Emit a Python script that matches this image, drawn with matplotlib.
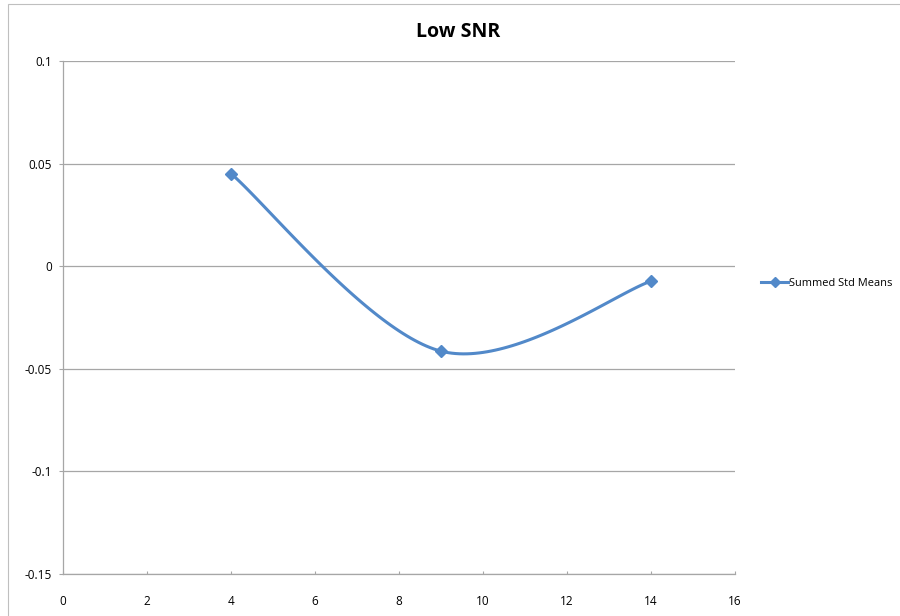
import numpy as np
import matplotlib
matplotlib.use("Agg")
import matplotlib.pyplot as plt
from matplotlib.patches import Rectangle

# data
snr_x = [4, 9, 14]
summed_std_means = [0.0451, -0.0414, -0.0073]
series_label = "Summed Std Means"
chart_title = "Low SNR"
x_ticks = [0, 2, 4, 6, 8, 10, 12, 14, 16]
y_ticks = [-0.15, -0.1, -0.05, 0, 0.05, 0.1]
y_tick_labels = ["-0.15", "-0.1", "-0.05", "0", "0.05", "0.1"]

LINE_COLOR = "#5289c9"
GRID_COLOR = "#a6a6a6"

plt.rcParams["font.family"] = ["Open Sans", "DejaVu Sans"]

W, H = 900, 616
fig = plt.figure(figsize=(W / 100, H / 100), dpi=100)
ax = fig.add_axes([63 / W, 1 - 574 / H, (735 - 63) / W, (574 - 61) / H])

# chart area border (only left and top visible in the original)
fig.patches.append(Rectangle((8 / W, -0.1), 1.2, 1 - 4 / H + 0.1,
                             transform=fig.transFigure, fill=False,
                             edgecolor="#bfbfbf", linewidth=0.8))


def excel_smooth(xs, ys, sx, sy, n=60):
    # Bezier smoothing like Excel's "smoothed line", done in pixel space
    p = np.column_stack([np.asarray(xs) * sx, np.asarray(ys) * sy])
    out = []
    for i in range(len(p) - 1):
        p0 = p[i - 1] if i > 0 else p[i]
        p1, p2 = p[i], p[i + 1]
        p3 = p[i + 2] if i + 2 < len(p) else p[i + 1]
        c1 = p1 + (p2 - p0) / 6
        c2 = p2 - (p3 - p1) / 6
        t = np.linspace(0, 1, n)[:, None]
        seg = ((1 - t) ** 3) * p1 + 3 * ((1 - t) ** 2) * t * c1 + 3 * (1 - t) * t ** 2 * c2 + t ** 3 * p2
        out.append(seg)
    pts = np.vstack(out)
    return pts[:, 0] / sx, pts[:, 1] / sy


ax.set_xlim(0, 16)
ax.set_ylim(-0.15, 0.1)
sx = (735 - 63) / 16
sy = (574 - 61) / 0.25
cx, cy = excel_smooth(snr_x, summed_std_means, sx, sy)
ax.plot(cx, cy, color=LINE_COLOR, linewidth=2.2, zorder=3, solid_capstyle="round")
ax.plot(snr_x, summed_std_means, linestyle="none", marker="D", markersize=6,
        color=LINE_COLOR, zorder=4)

# legend proxy: line with diamond marker
ax.plot([], [], color=LINE_COLOR, linewidth=2.2, marker="D", markersize=5,
        label=series_label)
leg = ax.legend(loc="center left", bbox_to_anchor=(756 / W, 1 - 283 / H),
                bbox_transform=fig.transFigure, frameon=False, fontsize=7.9,
                handlelength=2.4, handletextpad=0.15, borderpad=0)

ax.set_xticks(x_ticks)
ax.set_xticklabels([str(v) for v in x_ticks])
ax.set_yticks(y_ticks)
ax.set_yticklabels(y_tick_labels)
ax.yaxis.grid(True, color=GRID_COLOR, linewidth=0.9)
ax.set_axisbelow(True)

for side in ["top", "right"]:
    ax.spines[side].set_visible(False)
for side in ["left", "bottom"]:
    ax.spines[side].set_color(GRID_COLOR)
    ax.spines[side].set_linewidth(0.9)

ax.tick_params(axis="x", direction="in", length=2.5, color=GRID_COLOR,
               labelsize=8.5, pad=15)
ax.tick_params(axis="y", direction="out", length=3, color=GRID_COLOR,
               labelsize=8.5, pad=5)

fig.text(458 / W, 1 - 32 / H, chart_title, ha="center", va="center",
         fontsize=14, fontweight="bold")

fig.savefig("out.png", dpi=100)
